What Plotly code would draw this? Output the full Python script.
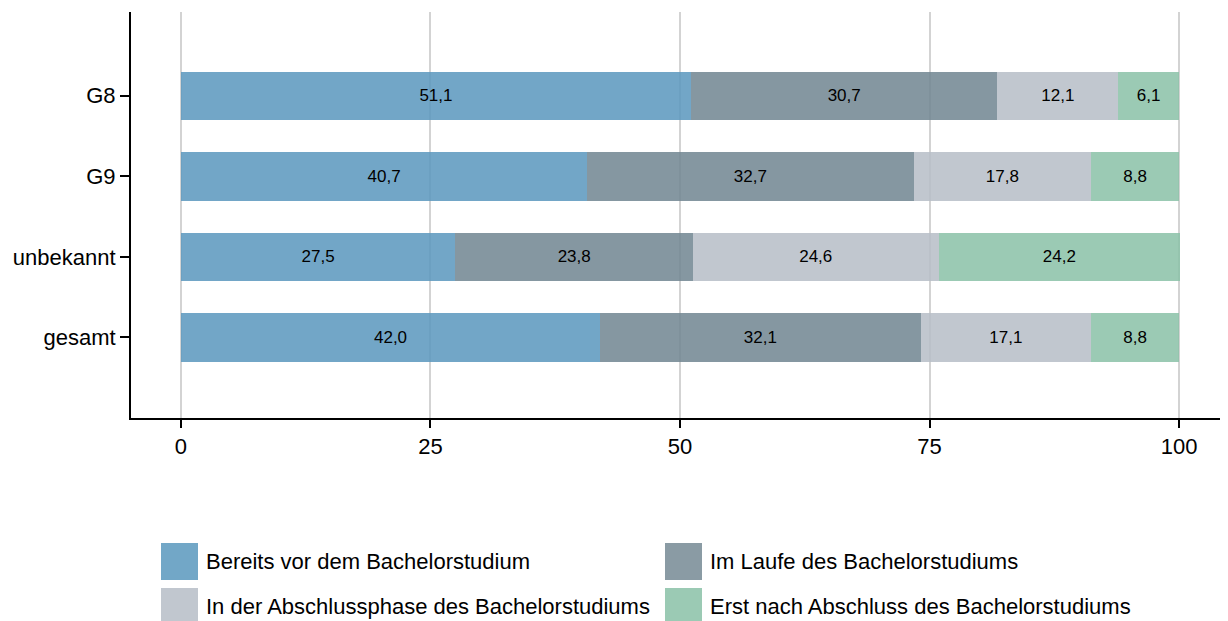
import plotly.graph_objects as go

categories = ["G8", "G9", "unbekannt", "gesamt"]
series_names = [
    "Bereits vor dem Bachelorstudium",
    "Im Laufe des Bachelorstudiums",
    "In der Abschlussphase des Bachelorstudiums",
    "Erst nach Abschluss des Bachelorstudiums",
]
bereits_vor = [51.1, 40.7, 27.5, 42.0]
im_laufe = [30.7, 32.7, 23.8, 32.1]
abschlussphase = [12.1, 17.8, 24.6, 17.1]
erst_nach = [6.1, 8.8, 24.2, 8.8]
x_ticks = [0, 25, 50, 75, 100]

series_values = [bereits_vor, im_laufe, abschlussphase, erst_nach]
colors = ["rgba(89,151,189,0.85)", "rgba(112,133,145,0.85)", "rgba(182,189,199,0.85)", "rgba(137,193,167,0.85)"]
legend_colors = ["#72a7c7", "#8a9ba4", "#c1c7cf", "#9bcab4"]

FONT = "Liberation Sans, Arial, sans-serif"

fig = go.Figure()
for name, vals, col in zip(series_names, series_values, colors):
    fig.add_trace(go.Bar(
        y=categories, x=vals, name=name, orientation="h",
        marker=dict(color=col, line=dict(width=0)),
        width=0.6,
        text=[f"{v:.1f}".replace(".", ",") for v in vals],
        textposition="inside", insidetextanchor="middle", textangle=0,
        constraintext="none",
        textfont=dict(size=17, color="black", family=FONT),
        showlegend=False,
    ))

fig.update_layout(
    barmode="stack",
    width=1220, height=613,
    margin=dict(l=123, r=0, t=4, b=203),
    plot_bgcolor="white", paper_bgcolor="white",
    font=dict(family=FONT, size=22, color="black"),
    xaxis=dict(
        range=[-5, 104.9], tickvals=x_ticks, showgrid=True, gridcolor="#d3d3d3", gridwidth=2,
        zeroline=False, showline=True, linecolor="black", linewidth=2,
        ticks="outside", ticklen=8, tickwidth=2, tickcolor="black",
        tickfont=dict(size=22),
    ),
    yaxis=dict(
        categoryorder="array", categoryarray=categories[::-1], range=[-1.0, 4.04],
        showgrid=False, zeroline=False, showline=True, linecolor="black", linewidth=2,
        ticks="outside", ticklen=9, tickwidth=2, tickcolor="black",
        tickfont=dict(size=22),
    ),
)

# custom legend (positions in page pixels converted to paper coordinates)
H = 406.0
W = 1097.0
def py(Y):
    return (418 - Y) / H
def px(X):
    return (X - 131) / W

legend_pos = [(161, 543), (665, 543), (161, 588), (665, 588)]
for name, col, (lx, ly) in zip(series_names, legend_colors, legend_pos):
    fig.add_shape(type="rect", xref="paper", yref="paper",
                  x0=px(lx), x1=px(lx + 37), y0=py(ly + 37), y1=py(ly),
                  fillcolor=col, line=dict(width=0))
    fig.add_annotation(xref="paper", yref="paper", x=px(lx + 43), y=py(ly + 18),
                       text=name, showarrow=False, xanchor="left", yanchor="middle",
                       font=dict(size=22, color="black", family=FONT))

fig.write_html("out.html")
